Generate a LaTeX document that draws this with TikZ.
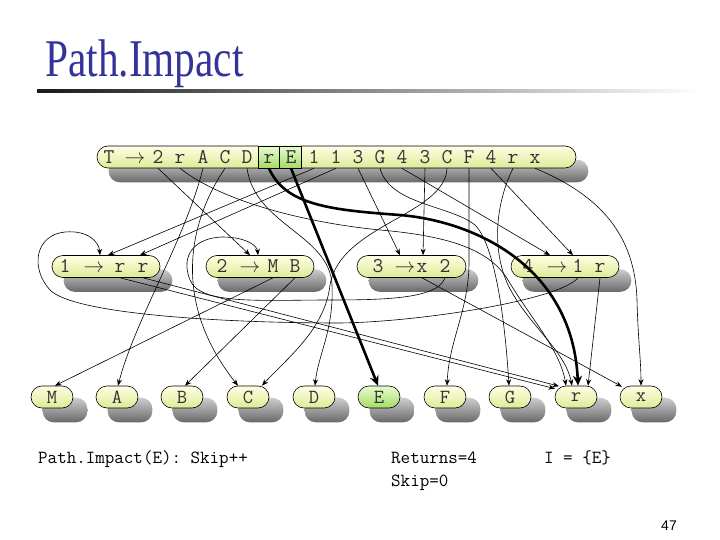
\documentclass[tikz,border=0pt]{standalone}
\usepackage{fontspec}
\newfontfamily\titlefont{Liberation Serif}
\newfontfamily\pagefont{Liberation Sans}
\usetikzlibrary{arrows.meta,backgrounds}
\definecolor{titleblue}{RGB}{51,51,153}
\definecolor{ntop}{RGB}{255,255,228}
\definecolor{nbot}{RGB}{222,234,150}
\definecolor{gtop}{RGB}{232,250,210}
\definecolor{gbot}{RGB}{165,220,100}
\definecolor{stop}{RGB}{205,205,205}
\definecolor{sbot}{RGB}{105,105,105}
\tikzset{
  pill/.style={draw=black, line width=0.6pt, rounded corners=11pt, minimum height=22pt, inner sep=0pt, top color=ntop, bottom color=nbot},
  leaf/.style={pill, minimum width=42pt, font=\fontsize{20}{20}\selectfont\ttfamily, text=black!80},
  eleaf/.style={leaf, top color=gtop, bottom color=gbot},
  gbox/.style={draw=black, line width=0.6pt, top color=gtop, bottom color=gbot},
  tok/.style={font=\fontsize{21}{21}\selectfont\ttfamily, text=black!80, inner sep=0pt, anchor=base},
  conn/.style={draw=black, line width=0.6pt, -{Stealth[length=6.5pt,width=5pt]}},
  hconn/.style={draw=black, line width=2.6pt, -{Stealth[length=10pt,width=9pt]}},
  shd/.style={rounded corners=11pt, top color=stop, bottom color=sbot},
  mono/.style={font=\fontsize{18.5}{21}\selectfont\ttfamily, inner sep=0pt, anchor=base west},
}
\begin{document}
\begin{tikzpicture}[x=1pt,y=-1pt]
\useasboundingbox (0,0) rectangle (720,540);
% title
\node[anchor=base west, inner sep=0pt, text=titleblue, font=\titlefont\fontsize{53}{53}\selectfont] (title) at (45,77) {\scalebox{0.78}[1]{Path.Impact}};
\shade[left color=black!90, right color=white] (37,89.5) rectangle (700,93);
% top bar
\node[pill, minimum width=479pt] (T) at (336.5,157) {};
\path[gbox] (258,146) rectangle (279.5,168);
\path[gbox] (279.5,146) rectangle (301,168);
\node[tok] (tT) at (109,163.5) {T};
\node[tok] (tarr) at (135,163.5) {$\rightarrow$};
\node[tok] (t2) at (158,163.5) {2};
\node[tok] (tr1) at (180,163.5) {r};
\node[tok] (tA) at (203,163.5) {A};
\node[tok] (tC1) at (225,163.5) {C};
\node[tok] (tD) at (247,163.5) {D};
\node[tok] (tr2) at (269,163.5) {r};
\node[tok] (tE) at (291,163.5) {E};
\node[tok] (t1a) at (314,163.5) {1};
\node[tok] (t1b) at (336,163.5) {1};
\node[tok] (t3a) at (358,163.5) {3};
\node[tok] (tG) at (380,163.5) {G};
\node[tok] (t4a) at (402,163.5) {4};
\node[tok] (t3b) at (425,163.5) {3};
\node[tok] (tC2) at (447,163.5) {C};
\node[tok] (tF) at (469,163.5) {F};
\node[tok] (t4b) at (491,163.5) {4};
\node[tok] (tr3) at (513,163.5) {r};
\node[tok] (tx) at (535,163.5) {x};
% rule nodes
\node[pill, minimum width=108pt] (R1) at (106,266.5) {};
\node[pill, minimum width=108pt] (R2) at (260,266.5) {};
\node[pill, minimum width=109pt] (R3) at (411.5,266.5) {};
\node[pill, minimum width=108pt] (R4) at (565,266.5) {};
\node[tok] (a1) at (65,272.5) {1};
\node[tok] (a1r) at (94,272.5) {$\rightarrow$};
\node[tok] (r1a) at (120,272.5) {r};
\node[tok] (r1b) at (143,272.5) {r};
\node[tok] (a2) at (222,272.5) {2};
\node[tok] (a2r) at (250,272.5) {$\rightarrow$};
\node[tok] (r2M) at (273,272.5) {M};
\node[tok] (r2B) at (295,272.5) {B};
\node[tok] (a3) at (378,272.5) {3};
\node[tok] (a3r) at (405,272.5) {$\rightarrow$};
\node[tok] (r3x) at (422,272.5) {x};
\node[tok] (r3t) at (445,272.5) {2};
\node[tok] (a4) at (528,272.5) {4};
\node[tok] (a4r) at (557,272.5) {$\rightarrow$};
\node[tok] (r4o) at (578,272.5) {1};
\node[tok] (r4r) at (600,272.5) {r};
% leaves
\node[leaf] (M) at (52,397) {M};
\node[leaf] (A) at (117,397) {A};
\node[leaf] (B) at (182,397) {B};
\node[leaf] (C) at (248,397) {C};
\node[leaf] (D) at (314,397) {D};
\node[eleaf] (E) at (379,397) {E};
\node[leaf] (F) at (445,397) {F};
\node[leaf] (G) at (510,397) {G};
\node[leaf] (rr) at (576,397) {r};
\node[leaf] (xx) at (641,397) {x};
% shadows
\begin{scope}[on background layer]
\foreach \n in {T,R1,R2,R3,R4}
  \shade[shd] ([shift={(12,14)}]\n.south west) rectangle ([shift={(12,14)}]\n.north east);
\foreach \n in {M,A,B,C,D,E,F,G,rr,xx}
  \shade[shd] ([shift={(12,14)}]\n.south west) rectangle ([shift={(14,12)}]\n.north east);
\end{scope}
% edges from T
\draw[conn] (t2 |- T.south) -- ([xshift=-10pt]R2.north);
\draw[conn] (tr1 |- T.south) .. controls (220,200) and (300,222) .. (380,230) .. controls (450,236) and (490,250) .. (508,280) .. controls (532,320) and (560,350) .. ([xshift=-10pt]rr.north);
\draw[conn] (tA |- T.south) .. controls (185,240) and (135,320) .. ([xshift=1pt]A.north);
\draw[conn] (tC1 |- T.south) .. controls (190,220) and (170,300) .. ([xshift=-10pt]C.north);
\draw[conn] (tD |- T.south) .. controls (255,225) and (330,235) .. (332,285) .. controls (334,330) and (318,355) .. ([xshift=1pt]D.north);
\draw[hconn] (tr2 |- T.south) .. controls (285,205) and (330,210) .. (400,215) .. controls (480,222) and (573,270) .. ([xshift=2pt]rr.north);
\draw[hconn] (tE |- T.south) -- ([xshift=-1pt]E.north);
\draw[conn] (t1a |- T.south) -- ([xshift=2pt]R1.north);
\draw[conn] (t1b |- T.south) -- ([xshift=34pt]R1.north);
\draw[conn] (t3a |- T.south) -- ([xshift=-11.5pt]R3.north);
\draw[conn] (tG |- T.south) .. controls (390,205) and (450,205) .. (475,225) .. controls (495,245) and (505,320) .. ([xshift=-1pt]G.north);
\draw[conn] (t4a |- T.south) -- ([xshift=-15pt]R4.north);
\draw[conn] (t3b |- T.south) -- ([xshift=11.5pt]R3.north);
\draw[conn] (tC2 |- T.south) .. controls (445,215) and (340,225) .. (330,285) .. controls (325,330) and (285,360) .. ([xshift=14pt]C.north);
\draw[conn] (tF |- T.south) -- (469,262) .. controls (469,310) and (449,340) .. ([xshift=2pt]F.north);
\draw[conn] (t4b |- T.south) -- ([xshift=8pt]R4.north);
\draw[conn] (tr3 |- T.south) .. controls (495,205) and (492,250) .. (508,285) .. controls (528,325) and (565,350) .. ([xshift=-4pt]rr.north);
\draw[conn] (tx |- T.south) .. controls (600,195) and (635,235) .. (637,300) .. controls (638,340) and (641,360) .. (xx.north);
% edges from rules
\draw[conn] (r1a |- R1.south) -- ([shift={(-21,3)}]rr.north);
\draw[conn] (r1b |- R1.south) -- ([shift={(-17,0.5)}]rr.north);
\draw[conn] (r2M |- R2.south) -- ([xshift=3pt]M.north);
\draw[conn] (r2B |- R2.south) -- ([xshift=3pt]B.north);
\draw[conn] (r3x |- R3.south) -- ([shift={(-19,1)}]xx.north);
\draw[conn] (r3t |- R3.south) .. controls (438,298) and (390,300) .. (330,300) .. controls (260,300) and (200,305) .. (190,280) .. controls (180,255) and (195,238) .. (222,237) .. controls (245,237) and (257,245) .. ([xshift=-2pt]R2.north);
\draw[conn] (r4o |- R4.south) .. controls (560,300) and (420,322) .. (340,323) .. controls (230,323) and (75,315) .. (50,290) .. controls (30,268) and (35,235) .. (65,232) .. controls (88,230) and (99,242) .. ([xshift=-6pt]R1.north);
\draw[conn] (r4r |- R4.south) -- ([xshift=12pt]rr.north);
% texts
\node[mono] (pi) at (38,463) {Path.Impact(E): Skip++};
\node[mono] (ret) at (391,463) {Returns=4};
\node[mono] (skp) at (391,486) {Skip=0};
\node[mono] (iset) at (544,463) {I = \{E\}};
\node[anchor=base east, inner sep=0pt, font=\pagefont\fontsize{14}{14}\selectfont] (pg) at (677,530) {47};
\end{tikzpicture}
\end{document}
